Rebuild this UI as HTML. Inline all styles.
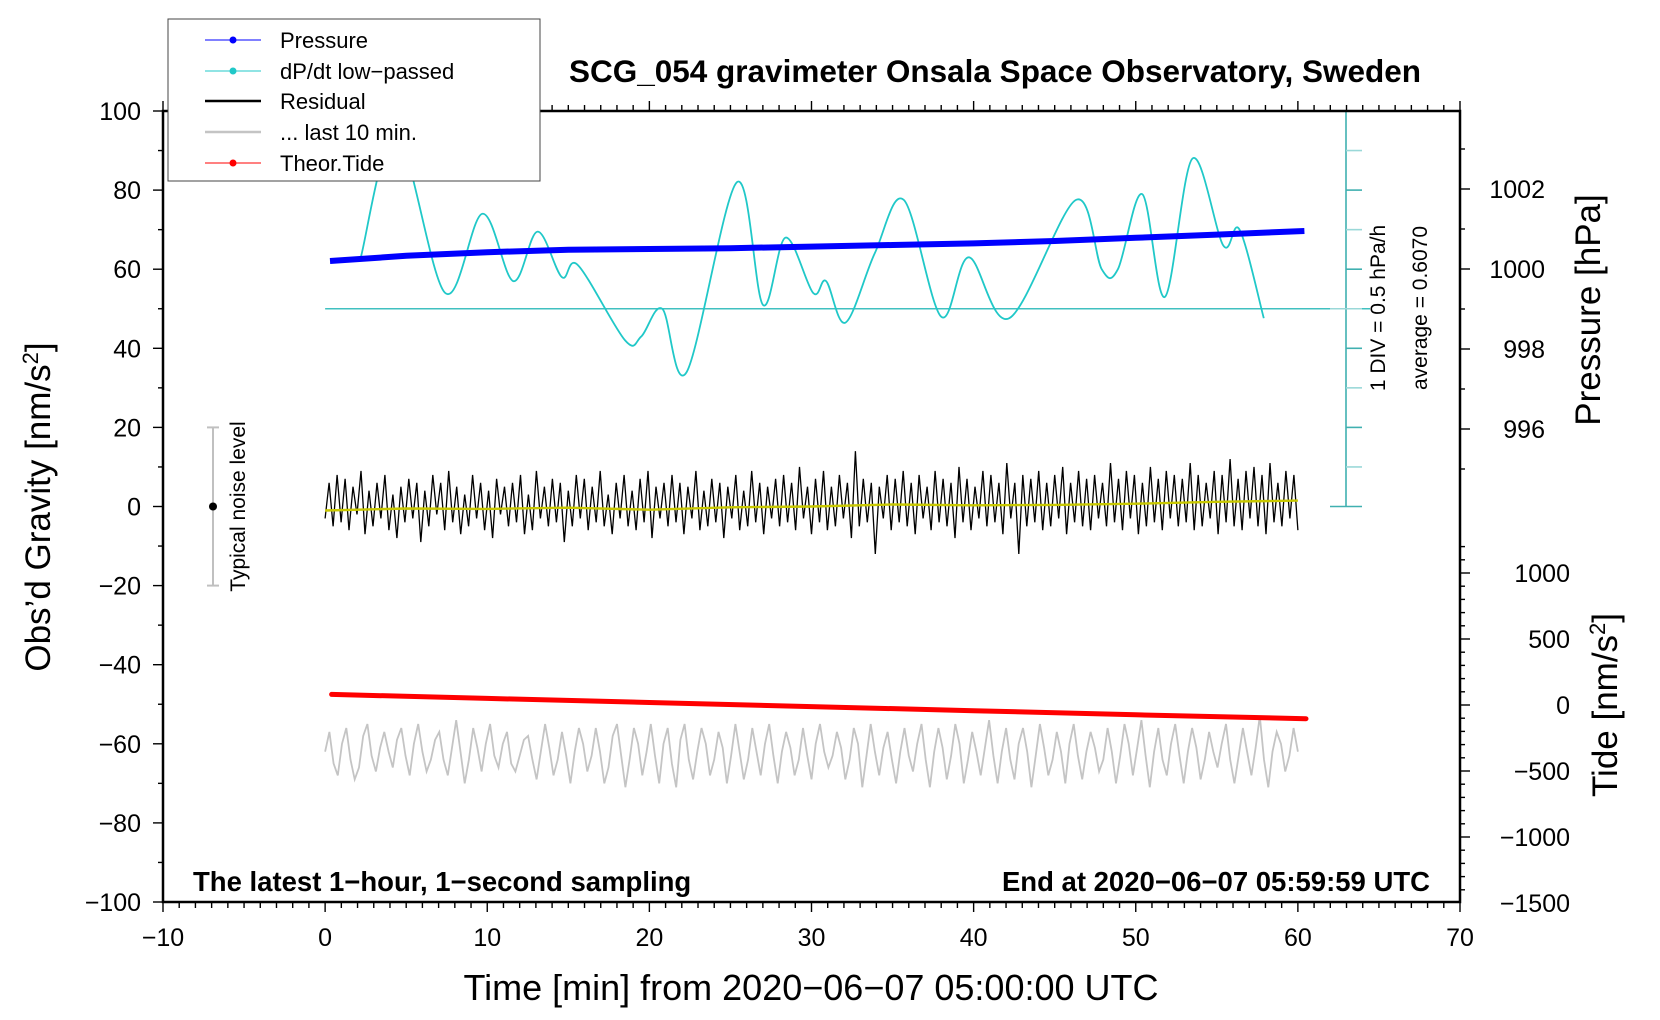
<!DOCTYPE html>
<html><head><meta charset="utf-8">
<style>
html,body{margin:0;padding:0;background:#fff;}
svg{display:block;font-family:"Liberation Sans",Arial,sans-serif;}
</style></head>
<body>
<svg id="chart" width="1660" height="1020" viewBox="0 0 1660 1020" xmlns="http://www.w3.org/2000/svg">
<rect x="0" y="0" width="1660" height="1020" fill="#fff"/>
<g id="plot"></g>
<g id="axes"></g>
</svg>
<script>
// ---- data ----
const xTicks = [-10,0,10,20,30,40,50,60,70];
const gTicks = [-100,-80,-60,-40,-20,0,20,40,60,80,100];
const pTicks = [996,998,1000,1002];
const tideTicks = [-1500,-1000,-500,0,500,1000];
// Pressure (hPa)
const pressT = [0.3,5,10,15,20,25,30,35,40,45,50,55,60.4];
const pressV = [1000.2,1000.33,1000.42,1000.48,1000.5,1000.52,1000.56,1000.6,1000.64,1000.7,1000.78,1000.86,1000.95];
// dP/dt low-passed (in gravity-axis units)
const dpT = [2.2,4.4,7.4,9.7,11.6,13.1,14.6,15.6,18.5,19.5,20.8,22.3,25.4,27.0,28.4,30.1,30.9,32.1,33.9,35.7,38.0,39.7,42.2,46.3,47.9,48.9,50.4,51.8,53.5,55.4,56.4,57.9];
const dpV = [63,94,54,74,57,69.5,58,61,42,43,50,34,82,51,68,54,57,46.5,64,77.5,48,63,47.6,77.5,60,60,79,53,88,66,70,47.6];
const dpAvg = 50;
// Residual (nm/s^2), evenly spaced over 0..60 min
const resid = [-3,6,-5,8,-4,7,-6,5,-2,9,-7,4,-5,6,-3,8,-6,3,-8,5,-4,7,-3,6,-9,4,-5,8,-2,6,-6,9,-4,5,-7,3,-5,8,-3,6,-6,4,-8,7,-2,5,-5,6,-4,8,-7,3,-6,9,-3,5,-5,7,-4,6,-9,4,-5,8,-3,7,-6,5,-4,9,-5,3,-7,6,-3,8,-5,4,-6,7,-4,9,-8,5,-3,6,-5,8,-4,6,-7,5,-3,9,-6,4,-5,7,-4,6,-8,5,-3,8,-6,4,-5,9,-4,6,-7,5,-3,7,-5,8,-4,6,-6,10,-3,5,-7,7,-4,9,-6,5,-5,8,-3,6,-8,14,-5,7,-4,6,-12,5,-3,8,-6,7,-4,9,-5,6,-7,8,-3,5,-6,9,-4,7,-5,6,-8,10,-4,7,-6,5,-3,9,-5,8,-4,6,-7,11,-3,6,-12,8,-5,7,-4,9,-6,6,-5,8,-3,10,-7,6,-4,9,-5,7,-6,8,-3,6,-5,11,-4,7,-6,9,-3,8,-7,6,-5,10,-4,7,-6,9,-3,8,-5,7,-4,11,-6,8,-5,6,-3,9,-7,8,-4,12,-5,7,-6,9,-3,10,-5,8,-7,11,-4,6,-5,9,-3,8,-6];
// Smoothed residual every 5 min
const smT = [0,5,10,15,20,25,30,35,40,45,50,55,60];
const smV = [-1,-0.5,-0.6,-0.3,-0.8,-0.2,0,0.5,0.3,0.4,0.7,1.2,1.5];
// Last 10 min (gray), evenly spaced over 0..60 min
const last10 = [-62,-57,-65,-68,-60,-56,-64,-69,-66,-58,-55,-63,-67,-61,-57,-62,-66,-59,-56,-63,-68,-60,-55,-62,-67,-64,-59,-57,-64,-68,-61,-54,-62,-70,-64,-56,-61,-67,-60,-55,-63,-66,-60,-57,-65,-67,-63,-59,-58,-64,-69,-62,-55,-61,-68,-64,-57,-63,-70,-62,-56,-60,-67,-63,-56,-62,-70,-66,-58,-55,-63,-71,-64,-56,-60,-68,-62,-55,-63,-70,-60,-56,-65,-71,-59,-55,-64,-69,-62,-56,-60,-68,-64,-57,-61,-70,-63,-55,-62,-69,-64,-56,-62,-68,-60,-55,-63,-70,-62,-57,-61,-68,-64,-56,-63,-69,-60,-55,-62,-66,-63,-57,-61,-69,-64,-56,-60,-71,-63,-55,-62,-68,-61,-57,-64,-70,-62,-56,-63,-67,-60,-55,-64,-71,-62,-56,-61,-69,-63,-55,-60,-70,-64,-57,-62,-68,-61,-54,-63,-70,-62,-56,-64,-69,-60,-56,-62,-71,-63,-55,-61,-68,-64,-57,-62,-70,-60,-55,-63,-69,-62,-57,-61,-67,-64,-56,-62,-70,-63,-55,-60,-68,-61,-54,-63,-71,-62,-56,-64,-68,-60,-55,-63,-70,-62,-56,-61,-69,-64,-57,-62,-66,-60,-55,-64,-70,-63,-56,-62,-68,-61,-53,-64,-71,-62,-57,-60,-67,-63,-56,-62];
// Theoretical tide (nm/s^2)
const tideT = [0.4,10,20,30,40,50,60.5];
const tideV = [80,50,19,-12,-43,-74,-104];

// ---- scales ----
const X0=163, X1=1460, Y0=111, Y1=902;
const xs = t => X0 + (t+10)/80*(X1-X0);
const ys = g => Y1 - (g+100)/200*(Y1-Y0);
const ps = p => 269 - (p-1000)*40;
const ts = v => 705 - v*66/500;

const NS="http://www.w3.org/2000/svg";
const plot=document.getElementById('plot'), axes=document.getElementById('axes');
function mk(tag, attrs, parent){const e=document.createElementNS(NS,tag);for(const k in attrs)e.setAttribute(k,attrs[k]);(parent||plot).appendChild(e);return e;}
function txt(s, attrs, parent){const e=mk('text',attrs,parent);e.textContent=s;return e;}

let avg=mk('line',{x1:xs(0),x2:1370,y1:ys(dpAvg),y2:ys(dpAvg),stroke:'#40c0c0','stroke-width':1.6});



let tb=mk('g',{});


mk('line',{x1:1346,x2:1346,y1:ys(100),y2:ys(0),stroke:'#40b0b0','stroke-width':1.6},tb);
for(let g=0;g<=100;g+=10){mk('line',{x1:(g%50==0?1330:1346),x2:1362,y1:ys(g),y2:ys(g),stroke:(g%20==0?'#40b0b0':'#9ad8d8'),'stroke-width':1.6},tb);}

const gStep = 60/(last10.length-1);
let gp=last10.map((v,i)=>`${i?'L':'M'}${xs(i*gStep).toFixed(1)},${ys(v).toFixed(1)}`).join('');
let gl=mk('path',{d:gp,fill:'none',stroke:'#c4c4c4','stroke-width':1.8});



const rStep = 60/(resid.length-1);
let rp=resid.map((v,i)=>`${i?'L':'M'}${xs(i*rStep).toFixed(1)},${ys(v).toFixed(1)}`).join('');
let rl=mk('path',{d:rp,fill:'none',stroke:'#000','stroke-width':1.3});


let sp=smT.map((t,i)=>`${i?'L':'M'}${xs(t).toFixed(1)},${ys(smV[i]).toFixed(1)}`).join('');
let sl=mk('path',{d:sp,fill:'none',stroke:'#c8c800','stroke-width':2.4});



let tp=tideT.map((t,i)=>`${i?'L':'M'}${xs(t).toFixed(1)},${ts(tideV[i]).toFixed(1)}`).join('');
let tl=mk('path',{d:tp,fill:'none',stroke:'#ff0000','stroke-width':5,'stroke-linecap':'round'});



function smooth(px,py){let d=`M${px[0]},${py[0]}`;for(let i=0;i<px.length-1;i++){const x0=px[Math.max(i-1,0)],y0=py[Math.max(i-1,0)],x1=px[i],y1=py[i],x2=px[i+1],y2=py[i+1],x3=px[Math.min(i+2,px.length-1)],y3=py[Math.min(i+2,px.length-1)];d+=`C${(x1+(x2-x0)/6).toFixed(1)},${(y1+(y2-y0)/6).toFixed(1)} ${(x2-(x3-x1)/6).toFixed(1)},${(y2-(y3-y1)/6).toFixed(1)} ${x2.toFixed(1)},${y2.toFixed(1)}`;}return d;}
let dl=mk('path',{d:smooth(dpT.map(xs),dpV.map(ys)),fill:'none',stroke:'#20c8c8','stroke-width':1.8});



let pp=pressT.map((t,i)=>`${i?'L':'M'}${xs(t).toFixed(1)},${ps(pressV[i]).toFixed(1)}`).join('');
let pl=mk('path',{d:pp,fill:'none',stroke:'#0000ff','stroke-width':6});



let nl=mk('g',{});


mk('line',{x1:213,x2:213,y1:ys(20),y2:ys(-20),stroke:'#c0c0c0','stroke-width':2},nl);
mk('line',{x1:207,x2:219,y1:ys(20),y2:ys(20),stroke:'#c0c0c0','stroke-width':2},nl);
mk('line',{x1:207,x2:219,y1:ys(-20),y2:ys(-20),stroke:'#c0c0c0','stroke-width':2},nl);
mk('circle',{cx:213,cy:ys(0),r:4,fill:'#000'},nl);
txt('Typical noise level',{x:0,y:0,'font-size':21,'text-anchor':'middle',transform:`translate(245,${ys(0)}) rotate(-90)`},nl);

mk('rect',{x:X0,y:Y0,width:X1-X0,height:Y1-Y0,fill:'none',stroke:'#000','stroke-width':2.5},axes);
for(let t=-10;t<=70;t++){const maj=t%10==0;const l=maj?10:6;
 mk('line',{x1:xs(t),x2:xs(t),y1:Y1,y2:Y1+l,stroke:'#000','stroke-width':1.4},axes);
 mk('line',{x1:xs(t),x2:xs(t),y1:Y0,y2:Y0-l,stroke:'#000','stroke-width':1.4},axes);}
xTicks.forEach(t=>{let e=txt(String(t).replace('-','\u2212'),{x:xs(t),y:946,'font-size':25,'text-anchor':'middle'},axes);
 
 });
for(let g=-100;g<=100;g+=10){const maj=g%20==0;mk('line',{x1:X0,x2:X0-(maj?10:5),y1:ys(g),y2:ys(g),stroke:'#000','stroke-width':1.4},axes);}
gTicks.forEach(g=>{let e=txt(String(g).replace('-','\u2212'),{x:141,y:ys(g)+9,'font-size':25,'text-anchor':'end'},axes);
 
 });
for(let p=995;p<=1003.5;p+=1){mk('line',{x1:X1,x2:X1+(p%2==0?10:5),y1:ps(p),y2:ps(p),stroke:'#000','stroke-width':1.4},axes);}
pTicks.forEach(p=>{let e=txt(String(p),{x:1545,y:ps(p)+9,'font-size':25,'text-anchor':'end'},axes);
 
 });
for(let v=-1500;v<=1200;v+=100){if(ts(v)<Y1+1&&ts(v)>540)mk('line',{x1:X1,x2:X1+(v%500==0?10:5),y1:ts(v),y2:ts(v),stroke:'#000','stroke-width':1.4},axes);}
tideTicks.forEach(v=>{let e=txt(String(v).replace('-','\u2212'),{x:1570,y:ts(v)+9,'font-size':25,'text-anchor':'end'},axes);
 
 });
</script>
<div style="position:absolute;left:0;top:0;width:1660px;height:1020px;pointer-events:none">
<svg width="1660" height="1020" xmlns="http://www.w3.org/2000/svg" style="font-family:'Liberation Sans',Arial,sans-serif">
<text x="995" y="82" font-size="31.5" font-weight="bold" text-anchor="middle">SCG_054 gravimeter Onsala Space Observatory, Sweden</text>
<text x="193" y="891" font-size="27.5" font-weight="bold">The latest 1−hour, 1−second sampling</text>
<text x="1430" y="891" font-size="27.5" font-weight="bold" text-anchor="end">End at 2020−06−07 05:59:59 UTC</text>
<text x="811" y="1000" font-size="36" text-anchor="middle">Time [min] from 2020−06−07 05:00:00 UTC</text>
<text transform="translate(50,507) rotate(-90)" font-size="35" text-anchor="middle">Obs’d Gravity [nm/s<tspan font-size="22" dy="-12">2</tspan><tspan dy="12">]</tspan></text>
<text transform="translate(1600,310) rotate(-90)" font-size="35" text-anchor="middle">Pressure [hPa]</text>
<text transform="translate(1617,705) rotate(-90)" font-size="35" text-anchor="middle">Tide [nm/s<tspan font-size="22" dy="-12">2</tspan><tspan dy="12">]</tspan></text>
<text transform="translate(1385,308) rotate(-90)" font-size="21" text-anchor="middle">1 DIV = 0.5 hPa/h</text>
<text transform="translate(1427,308) rotate(-90)" font-size="21" text-anchor="middle">average = 0.6070</text>
<g>
<rect x="168" y="19" width="372" height="162" fill="#fff" stroke="#444" stroke-width="1"/>
<g><line x1="205" x2="261" y1="40" y2="40" stroke="#0000ff" stroke-width="1"/><circle cx="233" cy="40" r="3.5" fill="#0000ff"/><text x="280" y="48" font-size="22">Pressure</text></g>
<g><line x1="205" x2="261" y1="71" y2="71" stroke="#20c8c8" stroke-width="1"/><circle cx="233" cy="71" r="3.5" fill="#20c8c8"/><text x="280" y="79" font-size="22">dP/dt low−passed</text></g>
<g><line x1="205" x2="261" y1="101" y2="101" stroke="#000" stroke-width="2.5"/><text x="280" y="109" font-size="22">Residual</text></g>
<g><line x1="205" x2="261" y1="132" y2="132" stroke="#c4c4c4" stroke-width="2.5"/><text x="280" y="140" font-size="22">... last 10 min.</text></g>
<g><line x1="205" x2="261" y1="163" y2="163" stroke="#ff0000" stroke-width="1"/><circle cx="233" cy="163" r="3.5" fill="#ff0000"/><text x="280" y="171" font-size="22">Theor.Tide</text></g>
</g>
</svg>
</div>
</body></html>
